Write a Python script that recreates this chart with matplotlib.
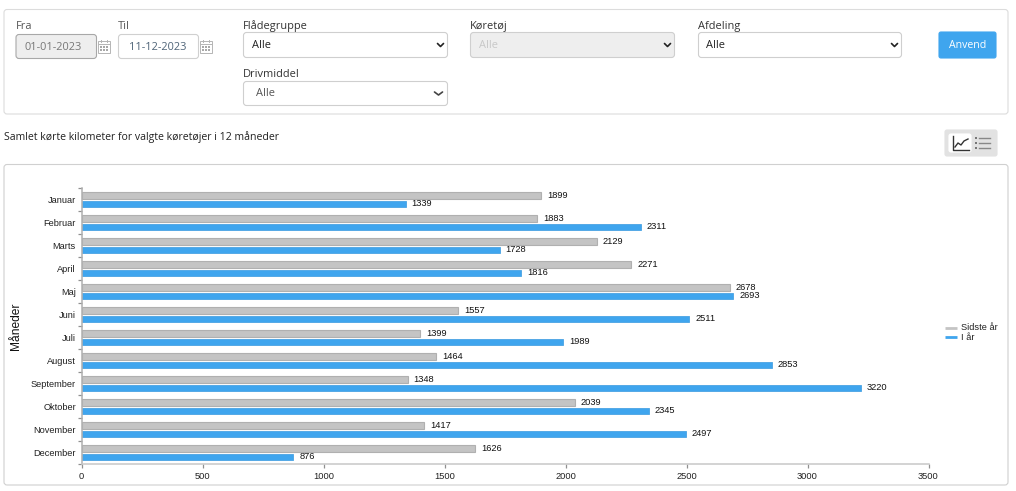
import matplotlib
matplotlib.use("Agg")
import matplotlib.pyplot as plt
from matplotlib.patches import FancyBboxPatch, Rectangle

W, H = 1016, 491

months = ["Januar", "Februar", "Marts", "April", "Maj", "Juni", "Juli",
          "August", "September", "Oktober", "November", "December"]
last_year = [1899, 1883, 2129, 2271, 2678, 1557, 1399, 1464, 1348, 2039, 1417, 1626]
this_year = [1339, 2311, 1728, 1816, 2693, 2511, 1989, 2853, 3220, 2345, 2497, 876]
x_ticks = [0, 500, 1000, 1500, 2000, 2500, 3000, 3500]
series_names = ["Sidste år", "I år"]

GREY = "#c4c4c4"
GREY_EDGE = "#b0b0b0"
BLUE = "#3fa5ee"
UI_FONT = "Open Sans"
CHART_FONT = "Liberation Sans"
CHART_SIZE = 9.3


def px_font(size):
    # font sizes below are given in pixels, figure runs at 100 dpi
    return size * 72 / 100


def box(ax, x0, y0, x1, y1, face="white", edge="#d5d5d5", lw=0.8, radius=3, zorder=1):
    patch = FancyBboxPatch((x0, y0), x1 - x0, y1 - y0,
                           boxstyle=f"round,pad=0,rounding_size={radius}",
                           facecolor=face, edgecolor=edge, linewidth=lw, zorder=zorder)
    ax.add_patch(patch)


def label(ax, x, y, text, size=11, color="#333333", ha="left", **kwargs):
    ax.text(x, y, text, fontsize=px_font(size), color=color, ha=ha, va="center",
            family=UI_FONT, **kwargs)


def chevron(ax, cx, cy, color="#222222", lw=1.2, half=3):
    ax.plot([cx - half, cx, cx + half], [cy - 1.5, cy + 1.5, cy - 1.5], color=color, lw=lw,
            solid_capstyle="round", solid_joinstyle="round")


def calendar(ax, x, y):
    # small calendar glyph next to the date inputs
    ax.add_patch(Rectangle((x, y), 12, 12, facecolor="white", edgecolor="#b5b5b5", linewidth=0.7))
    ax.plot([x, x + 12], [y + 3, y + 3], color="#b5b5b5", lw=0.7)
    for row in (6, 9):
        for col in (3, 6, 9):
            ax.add_patch(Rectangle((x + col - 0.7, y + row - 0.7), 1.4, 1.4,
                                   facecolor="#a8a8a8", edgecolor="none"))
    for col in (3, 9):
        ax.plot([x + col, x + col], [y - 1.5, y + 1], color="#b5b5b5", lw=0.7)


def select(ax, x0, y0, x1, y1, text, text_x, face="white", text_color="#222222",
           chev_color="#222222", chev_half=3, chev_inset=7):
    box(ax, x0, y0, x1, y1, face=face, edge="#cfcfcf")
    label(ax, text_x, (y0 + y1) / 2, text, color=text_color)
    chevron(ax, x1 - chev_inset, (y0 + y1) / 2, color=chev_color, half=chev_half)


fig = plt.figure(figsize=(W / 100, H / 100), dpi=100, facecolor="white")

# page layer in pixel coordinates: filter panel, title and icons
ui = fig.add_axes([0, 0, 1, 1])
ui.set_xlim(0, W)
ui.set_ylim(H, 0)
ui.axis("off")

box(ui, 4, 9.5, 1008, 114, edge="#dcdcdc")
box(ui, 4, 164.5, 1008, 485, edge="#d0d0d0")

label(ui, 16, 26, "Fra", color="#555555")
box(ui, 16, 34.5, 96.5, 58.5, face="#eeeeee", edge="#a8a8a8")
label(ui, 53.5, 47, "01-01-2023", color="#777777", ha="center")
calendar(ui, 98, 41)

label(ui, 118, 26, "Til", color="#555555")
box(ui, 118.5, 34.5, 198.5, 58.5, edge="#d0d0d0")
label(ui, 158, 47, "11-12-2023", color="#4f6478", ha="center")
calendar(ui, 200, 41)

label(ui, 243, 26, "Flådegruppe")
select(ui, 243.5, 32.5, 447.5, 57.5, "Alle", 252)
label(ui, 243, 74, "Drivmiddel")
select(ui, 243.5, 81.5, 447.5, 105.5, "Alle", 256, text_color="#555555", chev_color="#444444",
       chev_half=4, chev_inset=9)

label(ui, 470, 26, "Køretøj")
select(ui, 470.5, 32.5, 674.5, 57.5, "Alle", 479, face="#eeeeee", text_color="#c8c8c8")
label(ui, 698, 26, "Afdeling")
select(ui, 698.5, 32.5, 901.5, 57.5, "Alle", 706)

box(ui, 939, 32, 996, 58, face=BLUE, edge=BLUE, radius=2)
label(ui, 967.5, 45, "Anvend", size=10.5, color="white", ha="center")

label(ui, 4, 137, "Samlet kørte kilometer for valgte køretøjer i 12 måneder", size=10.5, color="#222222")

# chart / list toggle
box(ui, 945, 130, 997, 156, face="#e2e2e2", edge="#e2e2e2", radius=2)
box(ui, 949, 134, 971, 152, face="white", edge="white", radius=2)
ui.plot([953, 953, 969], [136, 150, 150], color="#333333", lw=1)
ui.plot([955, 958, 961, 964, 968], [147, 143, 145, 141, 139], color="#333333", lw=1)
for row in (138, 143, 148):
    ui.add_patch(Rectangle((975, row - 0.75), 1.5, 1.5, facecolor="#777777", edgecolor="none"))
    ui.plot([979, 990], [row, row], color="#888888", lw=1)

# bar chart, one band per month with the first month at the top
ax_left, ax_right = 81.5, 928.5
ax_top, ax_bottom = 188, 464
ax = fig.add_axes([ax_left / W, 1 - ax_bottom / H, (ax_right - ax_left) / W, (ax_bottom - ax_top) / H])
ax.patch.set_alpha(0)
ax.set_xlim(0, 3500)
ax.set_ylim(12, 0)

bar_h = 0.28
for i, (old, new) in enumerate(zip(last_year, this_year)):
    ax.barh(i + 0.325, old, height=bar_h, color=GREY, edgecolor=GREY_EDGE, linewidth=0.8)
    ax.barh(i + 0.695, new, height=bar_h, color=BLUE, edgecolor="#4aa3e4", linewidth=0.6)
    ax.annotate(str(old), (old, i + 0.31), xytext=(6, 0), textcoords="offset pixels",
                va="center", ha="left", fontsize=px_font(CHART_SIZE), family=CHART_FONT, color="#111111")
    ax.annotate(str(new), (new, i + 0.66), xytext=(6, 0), textcoords="offset pixels",
                va="center", ha="left", fontsize=px_font(CHART_SIZE), family=CHART_FONT, color="#111111")

for side in ("top", "right"):
    ax.spines[side].set_visible(False)
ax.spines["left"].set_color("#b0b0b0")
ax.spines["left"].set_linewidth(1.1)
ax.spines["bottom"].set_color("#c8c8c8")
ax.spines["bottom"].set_linewidth(1.1)

# ticks mark the band edges, month names sit between them
ax.set_yticks(range(13))
ax.set_yticklabels([])
ax.set_yticks([i + 0.5 for i in range(12)], minor=True)
ax.set_yticklabels(months, minor=True, fontsize=px_font(CHART_SIZE), family=CHART_FONT, color="#222222")
ax.tick_params(axis="y", which="major", length=3, width=0.9, color="#909090")
ax.tick_params(axis="y", which="minor", length=0, pad=4)
ax.set_xticks(x_ticks)
ax.set_xticklabels(x_ticks, fontsize=px_font(CHART_SIZE), family=CHART_FONT, color="#222222")
ax.tick_params(axis="x", length=3, width=0.9, color="#909090", pad=3)

ui.text(15.5, 326, "Måneder", rotation=90, ha="center", va="center",
        fontsize=px_font(12), family=CHART_FONT, color="#111111")

# legend drawn by hand so the swatches stay thin and tightly spaced
for y, name, color in zip((327.5, 337), series_names, (GREY, BLUE)):
    ui.plot([945, 957], [y, y], color=color, lw=2, solid_capstyle="butt")
    ui.text(961, y, name, fontsize=px_font(CHART_SIZE), family=CHART_FONT, color="#222222", va="center")

fig.savefig("out.png", dpi=100)
